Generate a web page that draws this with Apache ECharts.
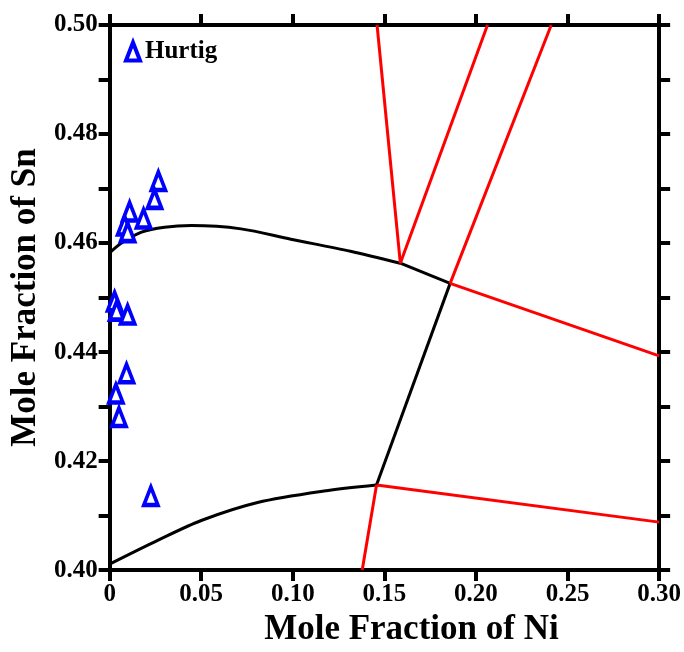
<!DOCTYPE html>
<html>
<head>
<meta charset="utf-8">
<script src="https://cdn.jsdelivr.net/npm/echarts@6/dist/echarts.min.js"></script>
<style>html,body{margin:0;padding:0;background:#fff}#c{width:684px;height:652px}</style>
</head>
<body>
<div id="c"></div>
<script>
// Data
const hurtigX = [0.0266, 0.0245, 0.0109, 0.0185, 0.0082, 0.0098, 0.0027, 0.0038, 0.0098, 0.0092, 0.0034, 0.0051, 0.0225];
const hurtigY = [0.4714, 0.4681, 0.4658, 0.4645, 0.4632, 0.4620, 0.4493, 0.4476, 0.4469, 0.4361, 0.4324, 0.4281, 0.4136];

const upperCurveX = [0, 0.0065, 0.0174, 0.03, 0.0446, 0.0717, 0.0989, 0.1315, 0.1587];
const upperCurveY = [0.4582, 0.4600, 0.4620, 0.4629, 0.4632, 0.4626, 0.4607, 0.4585, 0.4563];
const upperSegX = [0.1587, 0.1859];
const upperSegY = [0.4563, 0.4526];
const sideSegX = [0.1859, 0.1457];
const sideSegY = [0.4526, 0.4156];
const lowerCurveX = [0, 0.0265, 0.05, 0.0808, 0.117, 0.1457];
const lowerCurveY = [0.4011, 0.4055, 0.4091, 0.4124, 0.4145, 0.4156];

const redLines = [
  {x: [0.1587, 0.146], y: [0.4563, 0.50]},
  {x: [0.1587, 0.2063], y: [0.4563, 0.50]},
  {x: [0.1859, 0.2411], y: [0.4526, 0.50]},
  {x: [0.1859, 0.30], y: [0.4526, 0.4393]},
  {x: [0.1457, 0.30], y: [0.4156, 0.4088]},
  {x: [0.1457, 0.1379], y: [0.4156, 0.40]}
];

const xTicks = [0, 0.05, 0.10, 0.15, 0.20, 0.25, 0.30];
const yTicks = [0.40, 0.42, 0.44, 0.46, 0.48, 0.50];

const FONT = "'Liberation Serif','Times New Roman',serif";
const zip = (xs, ys) => xs.map((x, i) => [x, ys[i]]);

const chart = echarts.init(document.getElementById('c'));
const axisLineStyle = () => ({show: true, onZero: false, lineStyle: {color: '#000', width: 4}});
const tickStyle = () => ({show: true, inside: false, length: 11, lineStyle: {color: '#000', width: 4}});

const series = [];
const blackStyle = {color: '#000', width: 3};
series.push({type: 'line', data: zip(upperCurveX, upperCurveY), smooth: 0.3, showSymbol: false, lineStyle: blackStyle, silent: true});
series.push({type: 'line', data: zip(upperSegX, upperSegY), showSymbol: false, lineStyle: blackStyle, silent: true});
series.push({type: 'line', data: zip(sideSegX, sideSegY), showSymbol: false, lineStyle: blackStyle, silent: true});
series.push({type: 'line', data: zip(lowerCurveX, lowerCurveY), smooth: 0.3, showSymbol: false, lineStyle: blackStyle, silent: true});
redLines.forEach(r => series.push({type: 'line', data: zip(r.x, r.y), showSymbol: false, lineStyle: {color: '#ff0000', width: 3}, silent: true}));
series.push({
  name: 'Hurtig', type: 'scatter', data: zip(hurtigX, hurtigY),
  symbol: 'triangle', symbolSize: [14, 18],
  itemStyle: {color: '#fff', borderColor: '#0000ff', borderWidth: 4, opacity: 1},
  z: 10
});

chart.setOption({
  animation: false,
  backgroundColor: '#fff',
  grid: {left: 108, right: 24, top: 25, bottom: 75, containLabel: false},
  legend: {
    data: [{name: 'Hurtig', icon: 'triangle'}],
    left: 124, top: 39, padding: 0, itemWidth: 14, itemHeight: 18, itemGap: 7,
    textStyle: {fontFamily: FONT, fontWeight: 'bold', fontSize: 25, color: '#000'},
    itemStyle: {color: '#fff', borderColor: '#0000ff', borderWidth: 4}
  },
  xAxis: [{
    type: 'value', min: 0, max: 0.3, interval: 0.05, position: 'bottom',
    axisLine: axisLineStyle(), axisTick: tickStyle(), splitLine: {show: false},
    axisLabel: {margin: 12, fontFamily: FONT, fontWeight: 'bold', fontSize: 25, color: '#000',
      formatter: v => { const t = xTicks.find(k => Math.abs(k - v) < 1e-6); return t === undefined ? '' : (t === 0 ? '0' : t.toFixed(2)); }},
    name: 'Mole Fraction of Ni', nameLocation: 'middle', nameGap: 29,
    nameTextStyle: {fontFamily: FONT, fontWeight: 'bold', fontSize: 35, color: '#000', padding: [0, 0, 0, 54]}
  }, {
    type: 'value', min: 0, max: 0.3, interval: 0.05, position: 'top',
    axisLine: axisLineStyle(), axisTick: tickStyle(), splitLine: {show: false}, axisLabel: {show: false}
  }],
  yAxis: [{
    type: 'value', min: 0.4, max: 0.5, interval: 0.01, position: 'left',
    axisLine: axisLineStyle(), axisTick: tickStyle(), splitLine: {show: false},
    axisLabel: {margin: 12, fontFamily: FONT, fontWeight: 'bold', fontSize: 25, color: '#000',
      formatter: v => { const t = yTicks.find(k => Math.abs(k - v) < 1e-6); return t === undefined ? '' : t.toFixed(2); }},
    name: 'Mole Fraction of Sn', nameLocation: 'middle', nameGap: 62,
    nameTextStyle: {fontFamily: FONT, fontWeight: 'bold', fontSize: 35, color: '#000'}
  }, {
    type: 'value', min: 0.4, max: 0.5, interval: 0.01, position: 'right',
    axisLine: axisLineStyle(), axisTick: tickStyle(), splitLine: {show: false}, axisLabel: {show: false}
  }],
  series: series
});
</script>
</body>
</html>
